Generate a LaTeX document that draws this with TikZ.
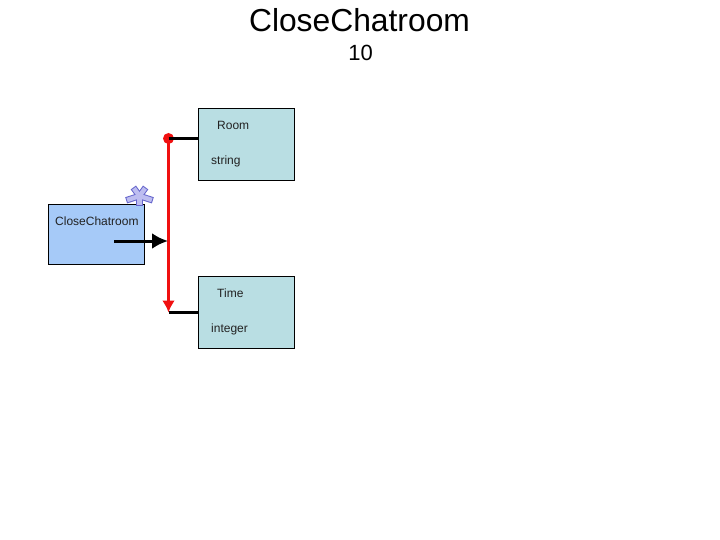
\documentclass[tikz,border=0pt]{standalone}
\usepackage{fontspec}
\setmainfont{Liberation Sans}
\usepackage{tikz}
\usetikzlibrary{positioning, calc, arrows.meta}
\definecolor{boxteal}{HTML}{B9DEE3}
\definecolor{boxblue}{HTML}{A6CAF8}
\definecolor{linkred}{HTML}{F01010}
\definecolor{starblue}{HTML}{BDBDF0}
\definecolor{stardark}{HTML}{6666CC}
\definecolor{inktext}{HTML}{222222}
\newcommand{\SmallText}[1]{{\fontsize{12}{14}\selectfont\color{inktext} #1}}
\tikzset{
    entity/.style={draw=black, line width=0.8pt, minimum width=96.2pt, inner sep=0pt},
    label/.style={anchor=west, inner sep=0pt},
    link/.style={black, line width=3pt},
    flow/.style={linkred, line width=3.2pt}
}

\begin{document}
\begin{tikzpicture}[>=latex, x=1pt, y=-1pt]

    \useasboundingbox (0,0) rectangle (720,540);

    \draw(359.5,20) node (Title) {\fontsize{31.8}{36}\selectfont CloseChatroom};
    \draw(360.5,53) node (Count) {\fontsize{22}{26}\selectfont 10};

    % boxes
    \draw(96.5,234) node[entity, fill=boxblue, minimum height=60pt] (Chat) {};
    \draw(246.5,144) node[entity, fill=boxteal, minimum height=72pt] (Room) {};
    \draw(246.5,312) node[entity, fill=boxteal, minimum height=72pt] (Time) {};

    \draw(55,221) node[label] (ChatName) {\SmallText{CloseChatroom}};
    \draw(217,125) node[label] (RoomName) {\SmallText{Room}};
    \draw(211,161) node[label] (RoomType) {\SmallText{string}};
    \draw(217,293) node[label] (TimeName) {\SmallText{Time}};
    \draw(211,329) node[label] (TimeType) {\SmallText{integer}};

    % links
    \coordinate (RoomEnd) at (168.5,138.5);
    \coordinate (TimeEnd) at (168.5,312.5);
    \coordinate (ChatFrom) at (114,241);
    \coordinate (ChatTo) at (168,241);

    \draw[flow, -{Latex[length=12pt, width=13pt]}] (RoomEnd) -- (TimeEnd);
    \draw(RoomEnd) node[circle, fill=linkred, minimum size=11pt, inner sep=0pt] (RoomDot) {};
    \draw[link] (RoomEnd) -- (RoomEnd -| Room.west);
    \draw[link] (TimeEnd) -- (TimeEnd -| Time.west);
    \draw[link, -{Latex[length=16pt, width=16pt]}] (ChatFrom) -- (ChatTo);

    % star on the corner
    \coordinate (Star) at (139.5,196);
    \foreach \a/\l in {90/10,162/14,18/14,234/10.5,306/10.5}
        \draw[stardark, line width=6.5pt] (Star) -- ++(\a:\l);
    \foreach \a/\l in {90/9,162/13,18/13,234/9.5,306/9.5}
        \draw[starblue, line width=4.5pt] (Star) -- ++(\a:\l);

\end{tikzpicture}
\end{document}
